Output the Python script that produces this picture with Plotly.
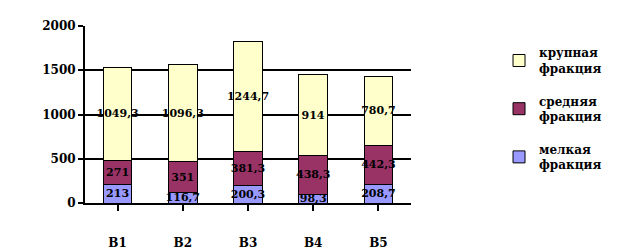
import plotly.graph_objects as go

categories = ["В1", "В2", "В3", "В4", "В5"]
small = [213, 116.7, 200.3, 98.3, 208.7]
medium = [271, 351, 381.3, 438.3, 442.3]
large = [1049.3, 1096.3, 1244.7, 914, 780.7]
names = ["мелкая<br>фракция", "средняя<br>фракция", "крупная<br>фракция"]
colors = ["#9999FF", "#993366", "#FFFFCC"]
ranks = [3, 2, 1]

def fmt(v):
    s = ("%g" % v)
    return s.replace(".", ",")

SERIF = "DejaVu Serif"

fig = go.Figure()
for i, (vals, name, col) in enumerate(zip([small, medium, large], names, colors)):
    fig.add_trace(go.Bar(
        x=categories, y=vals, name=name, legendgroup="g%d" % i,
        legendrank=ranks[i],
        marker=dict(color=col, line=dict(color="black", width=1)),
        text=[fmt(v) for v in vals], textposition="inside",
        insidetextanchor="middle", textangle=0,
        textfont=dict(family=SERIF, size=11, color="black", weight="bold"),
        constraintext="none", cliponaxis=False,
    ))

fig.update_layout(
    barmode="stack", bargap=0.56,
    width=619, height=252,
    margin=dict(l=85, r=200, t=26, b=49),
    paper_bgcolor="white", plot_bgcolor="white",
    font=dict(family=SERIF, size=12, color="black", weight="bold"),
    uniformtext=dict(minsize=8, mode="show"),
    showlegend=True,
    legend=dict(
        x=1.27, y=0.93, xanchor="left", yanchor="top",
        traceorder="grouped",
        font=dict(family=SERIF, size=12, color="black", weight="bold"),
        tracegroupgap=14, itemwidth=30,
    ),
    xaxis=dict(
        showline=True, linecolor="black", linewidth=2,
        ticks="outside", ticklen=6, tickcolor="black", tickwidth=2,
        ticklabelstandoff=22, automargin=False,
        tickfont=dict(family=SERIF, size=12, color="black", weight="bold"),
        showgrid=False,
    ),
    yaxis=dict(
        range=[0, 2000], tickvals=[0, 500, 1000, 1500, 2000],
        showline=True, linecolor="black", linewidth=2,
        ticks="outside", ticklen=5, tickcolor="black", tickwidth=2,
        showgrid=True, gridcolor="black", gridwidth=2,
        zeroline=False, automargin=False,
        tickfont=dict(family=SERIF, size=12, color="black", weight="bold"),
    ),
)

fig.write_html("out.html")
